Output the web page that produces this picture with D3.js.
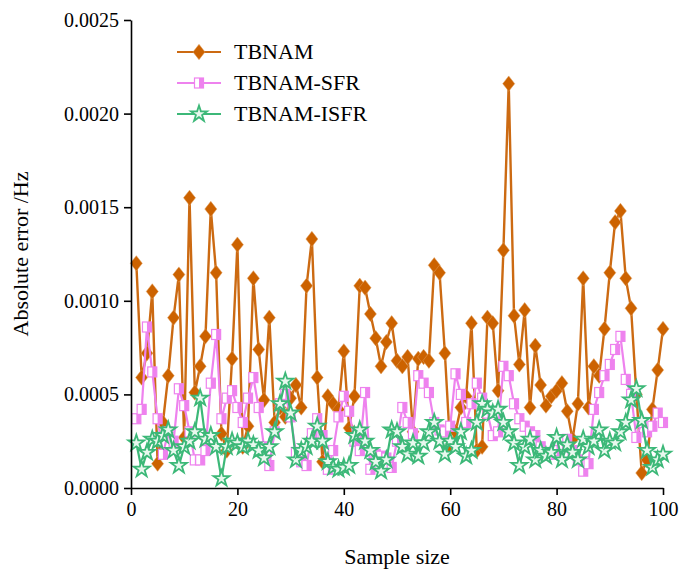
<!DOCTYPE html>
<html><head><meta charset="utf-8">
<script src="https://cdn.jsdelivr.net/npm/d3@7"></script>
<style>body{margin:0;background:#fff}svg{display:block}
svg text{font-family:"Liberation Serif","Times New Roman",Tinos,"DejaVu Serif",serif !important;}</style>
</head><body>
<svg id="c" width="686" height="572"></svg>
<script>
const seriesNames = ["TBNAM", "TBNAM-SFR", "TBNAM-ISFR"];
const xTicks = [0, 20, 40, 60, 80, 100];
const yTicks = [0, 0.0005, 0.0010, 0.0015, 0.0020, 0.0025];
// values in units of 1e-3 Hz, sample 1..100
const tbnam = [1.20,0.59,0.72,1.05,0.13,0.35,0.60,0.91,1.14,0.27,
1.55,0.51,0.65,0.81,1.49,1.15,0.29,0.20,0.69,1.30,
0.22,0.33,1.12,0.74,0.47,0.91,0.35,0.43,0.38,0.48,
0.55,0.43,1.08,1.33,0.59,0.14,0.49,0.45,0.42,0.73,
0.32,0.49,1.08,1.07,0.93,0.80,0.65,0.78,0.88,0.68,
0.65,0.70,0.30,0.69,0.70,0.68,1.19,1.15,0.72,0.22,
0.30,0.43,0.49,0.88,0.20,0.22,0.91,0.88,0.52,1.27,
2.16,0.92,0.66,0.95,0.43,0.76,0.55,0.44,0.49,0.52,
0.56,0.41,0.26,0.45,1.12,0.43,0.65,0.60,0.85,1.15,
1.42,1.48,1.12,0.96,0.50,0.08,0.15,0.42,0.63,0.85];
const sfr = [0.37,0.42,0.86,0.62,0.37,0.18,0.30,0.25,0.53,0.44,
0.30,0.15,0.15,0.20,0.56,0.82,0.37,0.48,0.52,0.43,
0.35,0.48,0.59,0.43,0.22,0.12,0.30,0.45,0.50,0.38,
0.19,0.14,0.12,0.29,0.37,0.28,0.10,0.20,0.38,0.49,
0.41,0.25,0.20,0.51,0.10,0.18,0.17,0.16,0.11,0.25,
0.43,0.35,0.29,0.60,0.56,0.51,0.35,0.31,0.30,0.33,
0.61,0.50,0.35,0.45,0.56,0.48,0.40,0.28,0.30,0.65,
0.60,0.45,0.37,0.33,0.30,0.28,0.22,0.19,0.18,0.20,
0.22,0.26,0.20,0.15,0.09,0.13,0.42,0.51,0.60,0.66,
0.74,0.81,0.58,0.50,0.27,0.35,0.30,0.33,0.40,0.35];
const isfr = [0.24,0.10,0.19,0.26,0.25,0.28,0.31,0.20,0.12,0.22,
0.25,0.30,0.48,0.26,0.28,0.22,0.05,0.22,0.25,0.24,
0.22,0.25,0.23,0.20,0.16,0.22,0.30,0.45,0.57,0.40,
0.15,0.20,0.22,0.25,0.33,0.25,0.14,0.11,0.10,0.11,
0.12,0.28,0.31,0.25,0.20,0.14,0.09,0.15,0.31,0.30,
0.22,0.18,0.24,0.17,0.24,0.30,0.35,0.25,0.18,0.25,
0.22,0.30,0.17,0.20,0.35,0.45,0.42,0.40,0.42,0.35,
0.30,0.24,0.12,0.22,0.26,0.15,0.20,0.17,0.19,0.27,
0.15,0.23,0.19,0.15,0.26,0.22,0.25,0.31,0.20,0.25,
0.24,0.30,0.35,0.47,0.53,0.36,0.20,0.11,0.15,0.18];

const svg = d3.select("#c");
const M = {l:131, r:663, t:20, b:488};
const x = d3.scaleLinear().domain([0,100]).range([M.l, M.r]);
const y = d3.scaleLinear().domain([0,0.0025]).range([M.b, M.t]);
const font = "Liberation Serif";

const cols = ["#cc6a12", "#ee82ee", "#3cb878"];
const datasets = [tbnam, sfr, isfr].map(a => a.map((v,i)=>({x:i+1, y:v/1000})));
const line = d3.line().x(d=>x(d.x)).y(d=>y(d.y));

function marker(g, k, cx, cy){
  if(k===0){
    g.append("path").attr("d", d3.symbol(d3.symbolDiamond, 95)())
      .attr("transform", `translate(${cx},${cy}) scale(1.15,0.85)`).attr("fill","#cc6200").attr("stroke","#e0a060").attr("stroke-width",0.5);
  } else if(k===1){
    g.append("rect").attr("x",cx-4.5).attr("y",cy-5).attr("width",9).attr("height",10).attr("fill","#fff").attr("stroke","#ee82ee").attr("stroke-width",1.2);
    g.append("rect").attr("x",cx).attr("y",cy-5).attr("width",4.5).attr("height",10).attr("fill","#ee82ee");
  } else {
    g.append("path").attr("d", d3.symbol(d3.symbolStar, 80)())
      .attr("transform", `translate(${cx},${cy})`).attr("fill","#e8f8ee").attr("stroke","#3cb878").attr("stroke-width",1.8);
  }
}

[0,1,2].forEach(k=>{
  const g = svg.append("g");
  g.append("path").datum(datasets[k]).attr("d", line).attr("fill","none")
    .attr("stroke", cols[k]).attr("stroke-width", k===0?2.4:2.2);
  datasets[k].forEach(d=>marker(g,k,x(d.x),y(d.y)));
});

const yAxis = d3.axisLeft(y).tickValues(yTicks).tickFormat(d3.format(".4f")).tickSize(7).tickSizeOuter(0);
const xAxis = d3.axisBottom(x).tickValues(xTicks).tickFormat(d3.format("d")).tickSize(7).tickSizeOuter(0);
const ga = svg.append("g").attr("transform",`translate(${M.l},0)`).call(yAxis);
const gb = svg.append("g").attr("transform",`translate(0,${M.b})`).call(xAxis);
[ga,gb].forEach(g=>{
  g.attr("font-family",font);
  g.selectAll("path").attr("stroke","#000").attr("stroke-width",1.6);
  g.selectAll("line").attr("stroke","#000").attr("stroke-width",1.6);
  g.selectAll("text").attr("font-family",font).attr("font-size",20).attr("fill","#000");
});
ga.selectAll("text").attr("x",-12);
gb.selectAll("text").attr("y",14);

svg.append("text").attr("x",(M.l+M.r)/2).attr("y",564).attr("text-anchor","middle")
  .attr("font-family",font).attr("font-size",22).text("Sample size");
svg.append("text").attr("transform",`translate(28,${(M.t+M.b)/2}) rotate(-90)`).attr("text-anchor","middle")
  .attr("font-family",font).attr("font-size",22).text("Absolute error /Hz");

const lg = svg.append("g");
seriesNames.forEach((n,i)=>{
  const yy = 52 + i*31;
  lg.append("line").attr("x1",177).attr("x2",221).attr("y1",yy).attr("y2",yy).attr("stroke",cols[i]).attr("stroke-width",2.2);
  marker(lg,i,199,yy);
  lg.append("text").attr("x",234).attr("y",yy+7).attr("font-family",font).attr("font-size",22).text(n);
});
</script>
</body></html>
